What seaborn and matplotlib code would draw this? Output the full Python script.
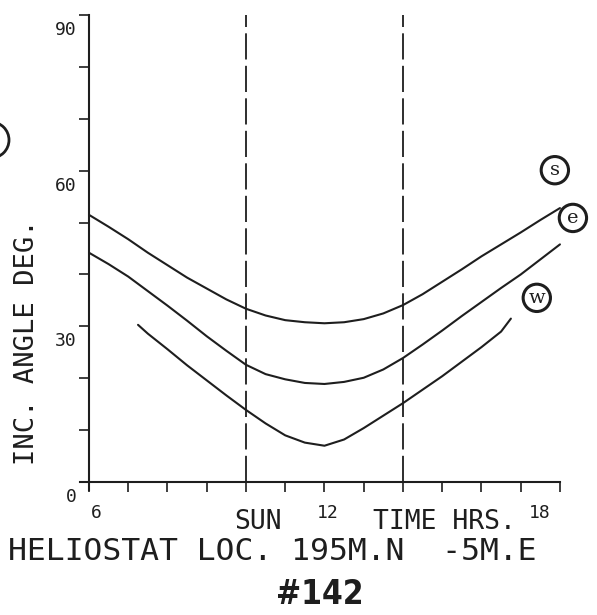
import matplotlib
matplotlib.use("Agg")
import matplotlib.pyplot as plt
import matplotlib.patches as mpatches
import matplotlib.transforms as mtransforms
import numpy as np
import pandas as pd
import seaborn as sns

# Incidence angle (deg) vs. solar time (hours) for three heliostat facets
hours_s = [6, 6.5, 7, 7.5, 8, 8.5, 9, 9.5, 10, 10.5, 11, 11.5, 12,
           12.5, 13, 13.5, 14, 14.5, 15, 15.5, 16, 16.5, 17, 17.5, 18]
angle_s = [51.5, 49.2, 46.8, 44.2, 41.8, 39.4, 37.3, 35.2, 33.4, 32.1, 31.2, 30.8, 30.6,
           30.8, 31.4, 32.5, 34.1, 36.2, 38.6, 41.0, 43.5, 45.8, 48.1, 50.5, 52.8]

hours_e = [6, 6.5, 7, 7.5, 8, 8.5, 9, 9.5, 10, 10.5, 11, 11.5, 12,
           12.5, 13, 13.5, 14, 14.5, 15, 15.5, 16, 16.5, 17, 17.5, 18]
angle_e = [44.2, 42.0, 39.6, 36.8, 34.0, 31.1, 28.1, 25.3, 22.6, 20.8, 19.8, 19.1, 18.9,
           19.3, 20.1, 21.7, 23.9, 26.5, 29.2, 32.0, 34.7, 37.4, 40.0, 42.9, 45.8]

hours_w = [7.25, 7.5, 8, 8.5, 9, 9.5, 10, 10.5, 11, 11.5, 12,
           12.5, 13, 13.5, 14, 14.5, 15, 15.5, 16, 16.5, 16.75]
angle_w = [30.3, 28.6, 25.6, 22.5, 19.6, 16.7, 13.9, 11.3, 9.0, 7.6, 7.0,
           8.2, 10.4, 12.8, 15.2, 17.8, 20.4, 23.2, 26.0, 29.0, 31.5]

sunrise_window = [10, 14]
y_ticks = list(range(0, 91, 10))
y_labels = ["0", "", "", "30", "", "", "60", "", "", "90"]
x_ticks = list(range(6, 19))
x_labels = {6: "6", 12: "12", 18: "18"}
curve_tags = {"s": (17.87, 60.1), "e": (18.33, 50.9), "w": (17.41, 35.5)}

df = pd.concat([
    pd.DataFrame({"hour": hours_s, "angle": angle_s, "facet": "s"}),
    pd.DataFrame({"hour": hours_e, "angle": angle_e, "facet": "e"}),
    pd.DataFrame({"hour": hours_w, "angle": angle_w, "facet": "w"}),
])

sns.set_style("white")
plt.rcParams["font.family"] = ["DejaVu Sans Mono", "DejaVu Sans"]

INK = "#1e1e1e"
W, H = 597, 615
fig = plt.figure(figsize=(W / 100, H / 100), dpi=100)
ax = fig.add_axes([0.1293, 0.1993, 0.8218, 0.7931])

sns.lineplot(data=df, x="hour", y="angle", hue="facet", units="facet",
             estimator=None, palette=[INK] * 3, linewidth=1.5,
             legend=False, ax=ax, sort=False)

ax.vlines(sunrise_window, 0, 90, colors=INK, linewidth=1.3,
          linestyles=[(0, (14.5, 3.5))])

ax.set_xlim(5.7, 18.2)
ax.set_ylim(-2, 92)

for side in ("top", "right"):
    ax.spines[side].set_visible(False)
ax.spines["left"].set_position(("data", 6))
ax.spines["bottom"].set_position(("data", 0))
ax.spines["left"].set_bounds(-1.5, 90)
ax.spines["bottom"].set_bounds(5.77, 18)
for side in ("left", "bottom"):
    ax.spines[side].set_color(INK)
    ax.spines[side].set_linewidth(1.5)

ax.set_yticks(y_ticks)
ax.set_yticklabels(y_labels)
ax.set_xticks(x_ticks)
ax.set_xticklabels([])
ax.tick_params(axis="both", direction="out", length=7.5, width=1.2,
               color=INK, left=True, bottom=True)
ax.tick_params(axis="y", labelsize=13, pad=1.5, labelcolor=INK)
shift_down = mtransforms.ScaledTranslation(0, -6 / 100, fig.dpi_scale_trans)
for lab in ax.get_yticklabels():
    lab.set_verticalalignment("top")
    lab.set_transform(lab.get_transform() + shift_down)
ax.set_xlabel("")
ax.set_ylabel("")

# hour numbers under the time axis
ax.text(6.05, -4.2, x_labels[6], ha="left", va="top", fontsize=13, color=INK)
ax.text(12.08, -4.2, x_labels[12], ha="center", va="top", fontsize=13, color=INK)
ax.text(17.75, -4.2, x_labels[18], ha="right", va="top", fontsize=13, color=INK)

# circled facet tags at the curve ends
for tag, (tx, ty) in curve_tags.items():
    ax.text(tx, ty, tag, ha="center", va="center", fontsize=14,
            family="DejaVu Serif", color=INK, clip_on=False,
            bbox=dict(boxstyle="circle,pad=0.24", fc="white", ec=INK, lw=2.2))

def fx(px):
    return px / W

def fy(py):
    return 1 - py / H

fig.text(fx(27), fy(342), "INC. ANGLE DEG.", rotation=90, ha="center", va="center",
         fontsize=19.5, color=INK)
fig.text(fx(258), fy(522), "SUN", ha="center", va="center", fontsize=19, color=INK)
fig.text(fx(444), fy(522), "TIME HRS.", ha="center", va="center", fontsize=19,
         color=INK)
fig.text(fx(8), fy(551), "HELIOSTAT LOC. 195M.N  -5M.E", ha="left", va="center",
         fontsize=22.6, color=INK)
fig.text(fx(320), fy(594), "#142", ha="center", va="center", fontsize=24,
         fontweight="bold", fontstretch="condensed",
         family=["DejaVu Sans"], color=INK)

# partially visible circled tag at the left margin
fig.patches.append(mpatches.Ellipse((fx(-9), fy(140)), 36 / W, 36 / H,
                                    transform=fig.transFigure, fill=False,
                                    ec=INK, lw=2))

fig.savefig("out.png", dpi=100, facecolor="white")
